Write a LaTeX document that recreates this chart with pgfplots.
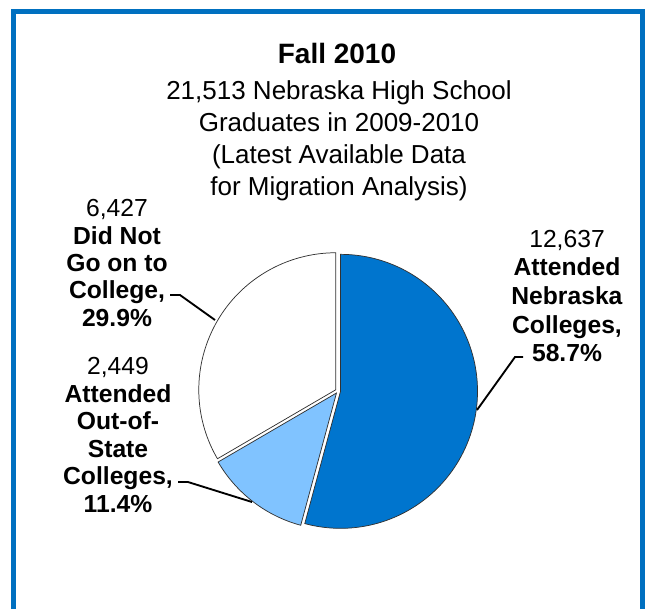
\documentclass[border=0pt]{standalone}
\usepackage{pgfplots}
\pgfplotsset{compat=1.18}
\usepackage{pgfplotstable}
\usepackage{fontspec}
\setmainfont{Liberation Sans}
\definecolor{frameblue}{RGB}{0,112,192}
\definecolor{darkslice}{RGB}{0,117,206}
\definecolor{lightslice}{RGB}{128,195,255}
\definecolor{edgegray}{RGB}{50,50,50}

% shares of the circle as drawn (percent)
\pgfplotstableread{
category share
Nebraska 54.2
OutOfState 12.4
NotCollege 33.4
}\piedata

\begin{document}
\begin{tikzpicture}
\pgfplotstablegetelem{0}{share}\of\piedata \pgfmathsetmacro{\sa}{\pgfplotsretval}
\pgfplotstablegetelem{1}{share}\of\piedata \pgfmathsetmacro{\sb}{\pgfplotsretval}
\pgfplotstablegetelem{2}{share}\of\piedata \pgfmathsetmacro{\sc}{\pgfplotsretval}
\pgfmathsetmacro{\aA}{90}
\pgfmathsetmacro{\aB}{90-3.6*\sa}
\pgfmathsetmacro{\aC}{\aB-3.6*\sb}
\pgfmathsetmacro{\aD}{\aC-3.6*\sc}
\pgfmathsetmacro{\mA}{(\aA+\aB)/2}
\pgfmathsetmacro{\mB}{(\aB+\aC)/2}
\pgfmathsetmacro{\mC}{(\aC+\aD)/2}
\def\R{102.75pt}
\begin{axis}[at={(0,0)}, anchor=south west, width=486pt, height=456pt,
  scale only axis, xmin=0, xmax=648, ymin=0, ymax=608, y dir=reverse,
  hide axis, clip=false]
% frame
\draw[frameblue, line width=3.75pt] (axis cs:13.5,700) -- (axis cs:13.5,11) -- (axis cs:642,11) -- (axis cs:642,700);
% slices
\filldraw[fill=darkslice, draw=edgegray, line width=0.55pt, shift={(\mA:1.9pt)}]
  (axis cs:338,391) -- ++(\aA:\R) arc[start angle=\aA, end angle=\aB, radius=\R] -- cycle;
\filldraw[fill=lightslice, draw=edgegray, line width=0.55pt, shift={(\mB:1.9pt)}]
  (axis cs:338,391) -- ++(\aB:\R) arc[start angle=\aB, end angle=\aC, radius=\R] -- cycle;
\filldraw[fill=white, draw=edgegray, line width=0.55pt, shift={(\mC:1.9pt)}]
  (axis cs:338,391) -- ++(\aC:\R) arc[start angle=\aC, end angle=\aD, radius=\R] -- cycle;
% leader lines
\draw[line width=1.4pt] (axis cs:477,410) -- (axis cs:515,357) -- (axis cs:523,357);
\draw[line width=1.4pt] (axis cs:170,295) -- (axis cs:180,295) -- (axis cs:215,320);
\draw[line width=1.4pt] (axis cs:178,482) -- (axis cs:188,482) -- (axis cs:252,502);
% titles
\node[font=\fontsize{21}{24}\selectfont\bfseries] at (axis cs:337,53) {Fall 2010};
\node[font=\fontsize{19.5}{24}\selectfont, align=center] at (axis cs:339,141)
  {21,513 Nebraska High School\\Graduates in 2009-2010\\(Latest Available Data\\for Migration Analysis)};
% labels
\node[font=\fontsize{18.5}{21.4}\selectfont, align=center] at (axis cs:567,296)
  {12,637\\\textbf{Attended}\\\textbf{Nebraska}\\\textbf{Colleges,}\\\textbf{58.7\%}};
\node[font=\fontsize{18.5}{20.5}\selectfont, align=center] at (axis cs:117,263)
  {6,427\\\textbf{Did Not}\\\textbf{Go on to}\\\textbf{College,}\\\textbf{29.9\%}};
\node[font=\fontsize{18.5}{20.7}\selectfont, align=center] at (axis cs:118,435)
  {2,449\\\textbf{Attended}\\\textbf{Out-of-}\\\textbf{State}\\\textbf{Colleges,}\\\textbf{11.4\%}};
\end{axis}
\pgfresetboundingbox
\path[use as bounding box] (current axis.south west) rectangle (current axis.north east);
\end{tikzpicture}
\end{document}
